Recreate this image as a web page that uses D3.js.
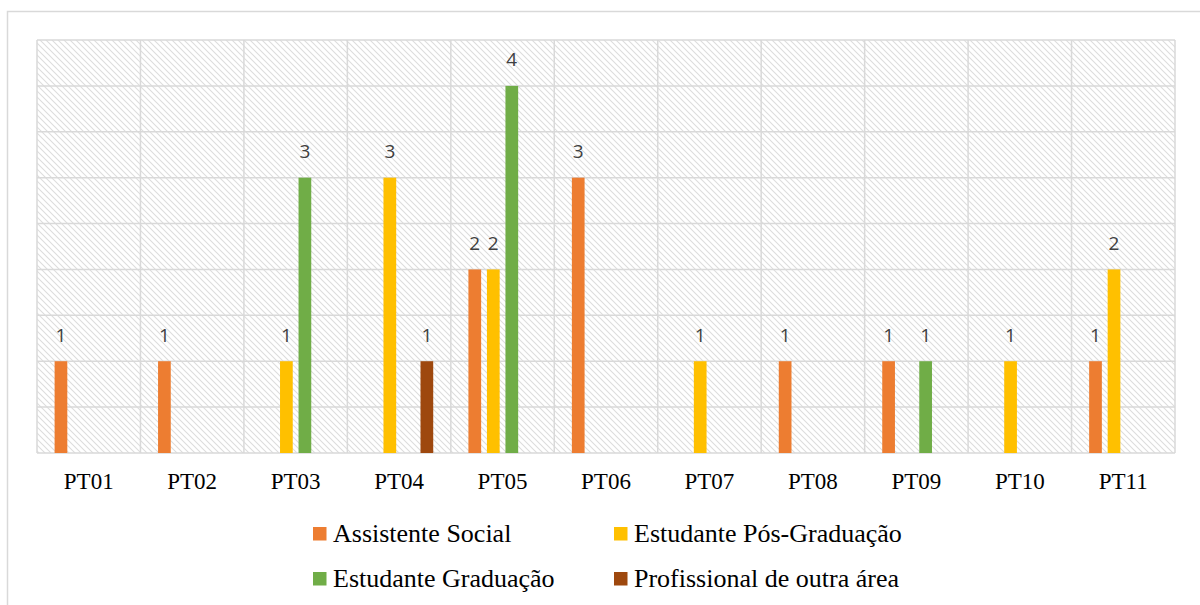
<!DOCTYPE html>
<html><head><meta charset="utf-8">
<script src="https://cdn.jsdelivr.net/npm/d3@7/dist/d3.min.js"></script>
<style>body{margin:0;background:#fff}svg{display:block}</style>
</head><body>
<svg id="c" width="1200" height="605"></svg>
<script>
const categories = ["PT01","PT02","PT03","PT04","PT05","PT06","PT07","PT08","PT09","PT10","PT11"];
const seriesNames = ["Assistente Social","Estudante Pós-Graduação","Estudante Graduação","Profissional de outra área"];
const assistenteSocial   = [1,1,0,0,2,3,0,1,1,0,1];
const estudantePos       = [0,0,1,3,2,0,1,0,0,1,2];
const estudanteGraduacao = [0,0,3,0,4,0,0,0,1,0,0];
const profissionalOutra  = [0,0,0,1,0,0,0,0,0,0,0];
const seriesValues = [assistenteSocial, estudantePos, estudanteGraduacao, profissionalOutra];
const colors = ["#ED7D31","#FFC000","#70AD47","#9E480E"];
const yTicks = [0,0.5,1,1.5,2,2.5,3,3.5,4,4.5];

const svg = d3.select("#c");
const L = 37, R = 1175, T = 40, B = 453;

// outer border
svg.append("rect").attr("x",7.5).attr("y",11.5).attr("width",1200).attr("height",600)
  .attr("fill","none").attr("stroke","#d9d9d9").attr("stroke-width",1.5);

const defs = svg.append("defs");
const pat = defs.append("pattern").attr("id","hatch").attr("patternUnits","userSpaceOnUse")
  .attr("width",6).attr("height",6);
pat.append("path").attr("d","M0,0L6,6M-1,5L1,7M5,-1L7,1")
  .attr("stroke","#dddddd").attr("stroke-width",1.1).attr("fill","none");

const x0 = d3.scaleBand().domain(categories).range([L,R]).paddingInner(0).paddingOuter(0);
const pad = 17.6;
const x1 = d3.scaleBand().domain(d3.range(seriesNames.length)).range([pad, x0.bandwidth()-pad]).paddingInner(0.3135).paddingOuter(0);
const y = d3.scaleLinear().domain([0,4.5]).range([B,T]);

svg.append("rect").attr("x",L).attr("y",T).attr("width",R-L).attr("height",B-T).attr("fill","url(#hatch)");

const grid = svg.append("g");
grid.selectAll("line.h").data(yTicks).join("line")
  .attr("x1",L).attr("x2",R).attr("y1",d=>y(d)).attr("y2",d=>y(d))
  .attr("stroke","#d9d9d9").attr("stroke-width",1.5);
const vb = categories.map(c=>x0(c)).concat([R]);
grid.selectAll("line.v").data(vb).join("line")
  .attr("x1",d=>d).attr("x2",d=>d).attr("y1",T).attr("y2",B)
  .attr("stroke","#d9d9d9").attr("stroke-width",1.5);

const bars = [];
seriesValues.forEach((vals,si)=>{
  vals.forEach((v,ci)=>{ if(v>0) bars.push({si,ci,v}); });
});
svg.append("g").selectAll("rect").data(bars).join("rect")
  .attr("x",d=>x0(categories[d.ci])+x1(d.si))
  .attr("width",x1.bandwidth())
  .attr("y",d=>y(d.v)).attr("height",d=>y(0)-y(d.v))
  .attr("fill",d=>colors[d.si]);

svg.append("g").selectAll("text").data(bars).join("text")
  .attr("x",d=>x0(categories[d.ci])+x1(d.si)+x1.bandwidth()/2)
  .attr("y",d=>y(d.v)-19.5)
  .attr("text-anchor","middle")
  .attr("font-family","'Open Sans', 'Liberation Sans', sans-serif")
  .attr("font-size",19).attr("fill","#404040")
  .text(d=>d.v);

// x axis labels
const xAxis = d3.axisBottom(x0).tickSize(0).tickPadding(0);
const gx = svg.append("g").attr("transform",`translate(0,${B})`).call(xAxis);
gx.select(".domain").remove();
gx.selectAll("text").attr("dy",null).attr("y",36)
  .attr("font-family","'Liberation Serif','Times New Roman',serif")
  .attr("font-size",23).attr("fill","#000");

// legend
const legendPos = [[313,527],[614,527],[313,572],[614,572]];
const lg = svg.append("g").selectAll("g").data(seriesNames).join("g")
  .attr("transform",(d,i)=>`translate(${legendPos[i][0]},${legendPos[i][1]})`);
lg.append("rect").attr("width",13.5).attr("height",13.5).attr("fill",(d,i)=>colors[i]);
lg.append("text").attr("x",20).attr("y",14.7)
  .attr("font-family","'Liberation Serif','Times New Roman',serif")
  .attr("font-size",26).attr("fill","#000").text(d=>d);
</script>
</body></html>
